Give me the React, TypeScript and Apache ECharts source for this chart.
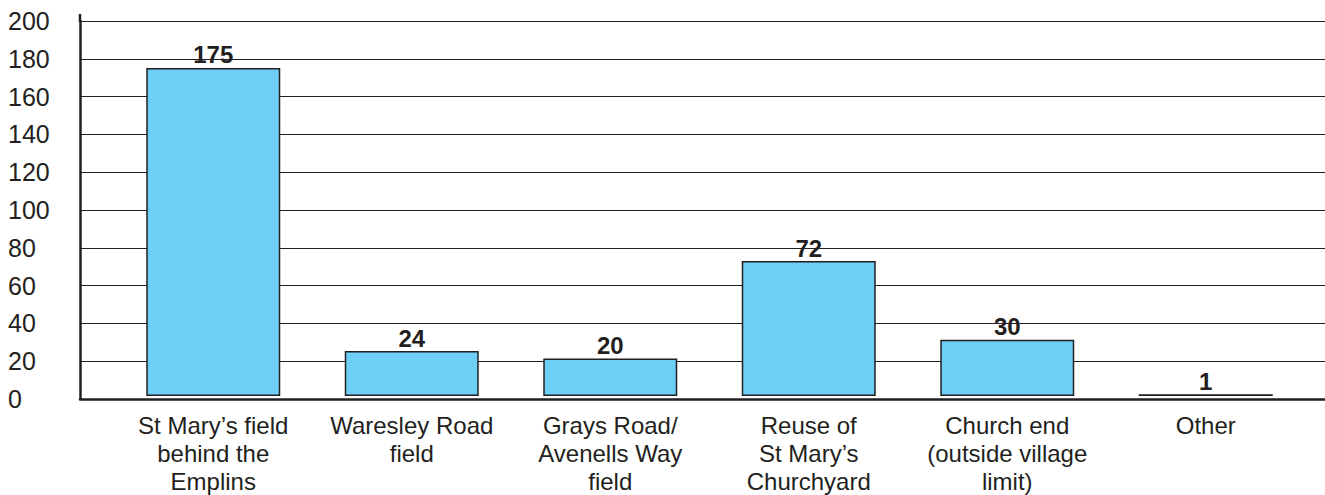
import React, { useEffect, useRef } from "react";
import * as echarts from "echarts";

const categories = [
  "St Mary’s field\nbehind the\nEmplins",
  "Waresley Road\nfield",
  "Grays Road/\nAvenells Way\nfield",
  "Reuse of\nSt Mary’s\nChurchyard",
  "Church end\n(outside village\nlimit)",
  "Other",
];
const values = [175, 24, 20, 72, 30, 1];
const yMin = 0;
const yMax = 200;
const yInterval = 20;

const FONT = "'Liberation Sans', Arial, Helvetica, sans-serif";
const INK = "#231f20";

export default function App() {
  const ref = useRef<HTMLDivElement>(null);
  useEffect(() => {
    if (!ref.current) return;
    const chart = echarts.init(ref.current, null, { renderer: "svg" });
    chart.setOption({
      animation: false,
      backgroundColor: "#ffffff",
      grid: [
        { left: 80, right: 0, top: 21, bottom: 96 },
        { left: 114, right: 20, top: 21, bottom: 96 },
      ],
      xAxis: [
        {
          gridIndex: 0,
          type: "value",
          min: 0,
          max: 1,
          axisLine: { show: true, onZero: false, lineStyle: { color: INK, width: 2.5 } },
          axisTick: { show: false },
          axisLabel: { show: false },
          splitLine: { show: false },
        },
        {
          gridIndex: 1,
          type: "category",
          data: categories,
          axisLine: { show: false },
          axisTick: { show: false },
          axisLabel: {
            interval: 0,
            margin: 15,
            color: INK,
            fontFamily: FONT,
            fontSize: 24,
            lineHeight: 28,
            align: "center",
          },
        },
      ],
      yAxis: [
        {
          gridIndex: 0,
          type: "value",
          min: yMin,
          max: yMax,
          interval: yInterval,
          axisLine: { show: true, lineStyle: { color: INK, width: 2.5 } },
          axisTick: { show: false },
          axisLabel: {
            color: INK,
            fontFamily: FONT,
            fontSize: 25,
            align: "left",
            margin: 72,
          },
          splitLine: { show: true, lineStyle: { color: INK, width: 1 } },
        },
        {
          gridIndex: 1,
          type: "value",
          min: yMin,
          max: yMax,
          interval: yInterval,
          show: false,
        },
      ],
      graphic: [
        {
          type: "line",
          shape: { x1: 80, y1: 14, x2: 80, y2: 22 },
          style: { stroke: INK, lineWidth: 2.5 },
        },
      ],
      series: [
        {
          type: "bar",
          xAxisIndex: 1,
          yAxisIndex: 1,
          data: values,
          barWidth: 134,
          itemStyle: { color: "#6dcff6", borderColor: INK, borderWidth: 1.5 },
          label: {
            show: true,
            position: "top",
            distance: 1,
            color: INK,
            fontFamily: FONT,
            fontSize: 24,
            fontWeight: "bold",
          },
        },
      ],
    });
    return () => chart.dispose();
  }, []);
  return (
    <div
      ref={ref}
      style={{ position: "fixed", left: 0, top: 0, width: 1325, height: 495 }}
    />
  );
}
